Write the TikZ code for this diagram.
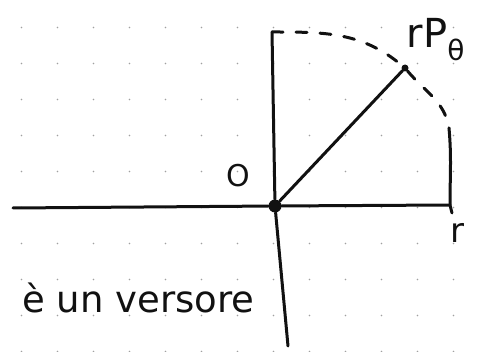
\documentclass[tikz,border=0pt]{standalone}
\usepackage{fontspec}
\setmainfont{DejaVu Sans}
\usepackage{tikz}
\usetikzlibrary{positioning,calc}
\definecolor{InkBlack}{HTML}{111111}
\definecolor{GridDot}{HTML}{A0A0A0}

\begin{document}
\begin{tikzpicture}[
  x=1pt, y=-1pt,
  ink/.style={line width=3pt, color=InkBlack, line cap=round},
  dashink/.style={ink, dash pattern=on 11pt off 13pt},
  handtext/.style={font=\fontsize{30}{32}\selectfont, text=InkBlack, inner sep=0pt},
  bigdot/.style={circle, fill=InkBlack, inner sep=0pt, minimum size=13pt},
  smalldot/.style={circle, fill=InkBlack, inner sep=0pt, minimum size=7pt}
]
  \useasboundingbox (0,0) rectangle (486,352);
  % dotted paper
  \foreach \i in {0,...,12}
    \foreach \j in {0,...,9}
      \fill[GridDot] (21.5+36*\i, 27.5+36*\j) circle (0.9pt);

  % axes
  \coordinate (xleft) at (13,208);
  \coordinate (xright) at (450,205);
  \coordinate (ytop) at (272,32);
  \coordinate (ybottom) at (288,346);
  \node[bigdot] (origin) at (275,206) {};
  \node[smalldot] (ptheta) at (405,68) {};
  \coordinate (arcend) at (449,128);
  \coordinate (hook) at (452,213);

  \draw[ink] (xleft) -- (origin) -- (xright);
  \draw[ink] (ytop) -- (origin) -- (ybottom);
  \draw[ink] (origin) -- (ptheta);

  % arc of radius r
  \draw[dashink] (ytop) to[out=0, in=140] (ptheta);
  \draw[dashink] (ptheta) to[out=-50, in=100] (arcend);
  \draw[ink] (arcend) to[out=-85, in=90] (xright) -- (hook);

  % labels
  \node[handtext] (olabel) at (238,176) {O};
  \node[handtext, font=\fontsize{40}{42}\selectfont] (plabel) at (436,40) {rP\textsubscript{θ}};
  \node[handtext, font=\fontsize{34}{36}\selectfont] (rlabel) at (457,233) {r};
  \node[handtext, anchor=west, font=\fontsize{37}{40}\selectfont] (versore) at (22,298) {è un versore};
\end{tikzpicture}
\end{document}
